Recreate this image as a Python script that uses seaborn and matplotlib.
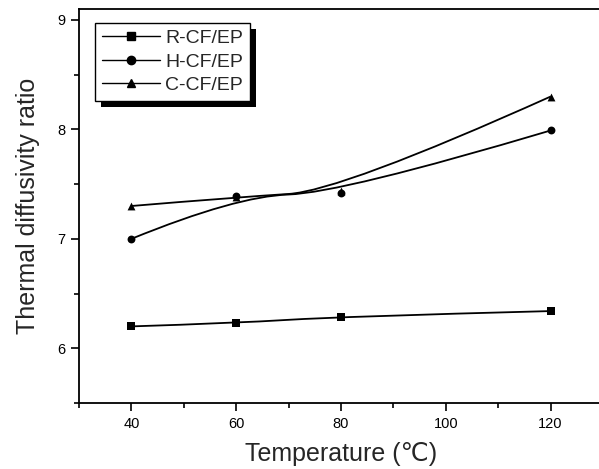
import numpy as np
import pandas as pd
import matplotlib
matplotlib.use("Agg")
import matplotlib.pyplot as plt
import seaborn as sns
from matplotlib.lines import Line2D
from matplotlib.path import Path
from matplotlib.patches import PathPatch
from matplotlib.ticker import MultipleLocator
import matplotlib.patheffects as pe

# datos
temperatura = [40, 60, 80, 120]
r_cf = [6.20, 6.23, 6.29, 6.34]
h_cf = [7.00, 7.39, 7.42, 7.99]
c_cf = [7.30, 7.38, 7.44, 8.30]
series = ["R-CF/EP", "H-CF/EP", "C-CF/EP"]
marcadores = ["s", "o", "^"]

sns.set_style("ticks")
plt.rcParams["font.family"] = ["Liberation Sans", "DejaVu Sans"]

df = pd.DataFrame({
    "T": temperatura * 3,
    "valor": r_cf + h_cf + c_cf,
    "serie": [s for s in series for _ in temperatura],
})


def bspline(x, y):
    # B-spline cuadratico (estilo Origin): los puntos son puntos de control
    p = np.column_stack([x, y]).astype(float)
    verts = [p[0], p[1]]
    for i in range(1, len(p) - 2):
        verts += [(p[i] + p[i + 1]) / 2, p[i + 1]]
    verts.append(p[-1])
    codes = [Path.MOVETO] + [Path.CURVE3] * (len(verts) - 1)
    return Path(verts, codes)


fig = plt.figure(figsize=(5.99, 4.69), dpi=100)
ax = fig.add_axes([79 / 599, 66 / 469, 524 / 599, 394 / 469])

for s in series:
    sub = df[df["serie"] == s]
    ax.add_patch(PathPatch(bspline(sub["T"], sub["valor"]), facecolor="none",
                           edgecolor="black", lw=1.3, zorder=2))

# marcadores: C primero para que quede debajo de H
orden = ["R-CF/EP", "C-CF/EP", "H-CF/EP"]
for s in orden:
    sns.scatterplot(data=df[df["serie"] == s], x="T", y="valor",
                    marker=marcadores[series.index(s)], color="black", s=32,
                    linewidth=0, ax=ax, legend=False, zorder=3)

ax.set_xlim(30, 130)
ax.set_ylim(5.5, 9.1)
ax.xaxis.set_major_locator(MultipleLocator(20))
ax.xaxis.set_minor_locator(MultipleLocator(10))
ax.yaxis.set_major_locator(MultipleLocator(1))
ax.yaxis.set_minor_locator(MultipleLocator(0.5))
ax.tick_params(which="major", direction="out", length=6, width=1.2, labelsize=10.5,
               color="black", labelcolor="black", pad=4)
ax.tick_params(which="minor", direction="out", length=3.5, width=1.2, color="black")
for sp in ax.spines.values():
    sp.set_linewidth(1.3)
    sp.set_color("black")

ax.set_xlabel("Temperature (℃)", fontsize=18, labelpad=8)
ax.set_ylabel("Thermal diffusivity ratio", fontsize=18, labelpad=12)

handles = [Line2D([], [], color="black", lw=1, marker=m, markersize=6) for m in marcadores]
leg = ax.legend(handles, series, loc="upper left", bbox_to_anchor=(0.031, 0.965), borderaxespad=0,
                fontsize=14, frameon=True, fancybox=False, framealpha=1, edgecolor="black",
                handlelength=3.0, handletextpad=0.25, labelspacing=0.3, borderpad=0.35)
leg.get_frame().set_linewidth(1.0)
leg.get_frame().set_path_effects([pe.SimplePatchShadow(offset=(4.5, -4.5), shadow_rgbFace="black", alpha=1),
                                  pe.Normal()])

plt.savefig("out.png", dpi=100)
